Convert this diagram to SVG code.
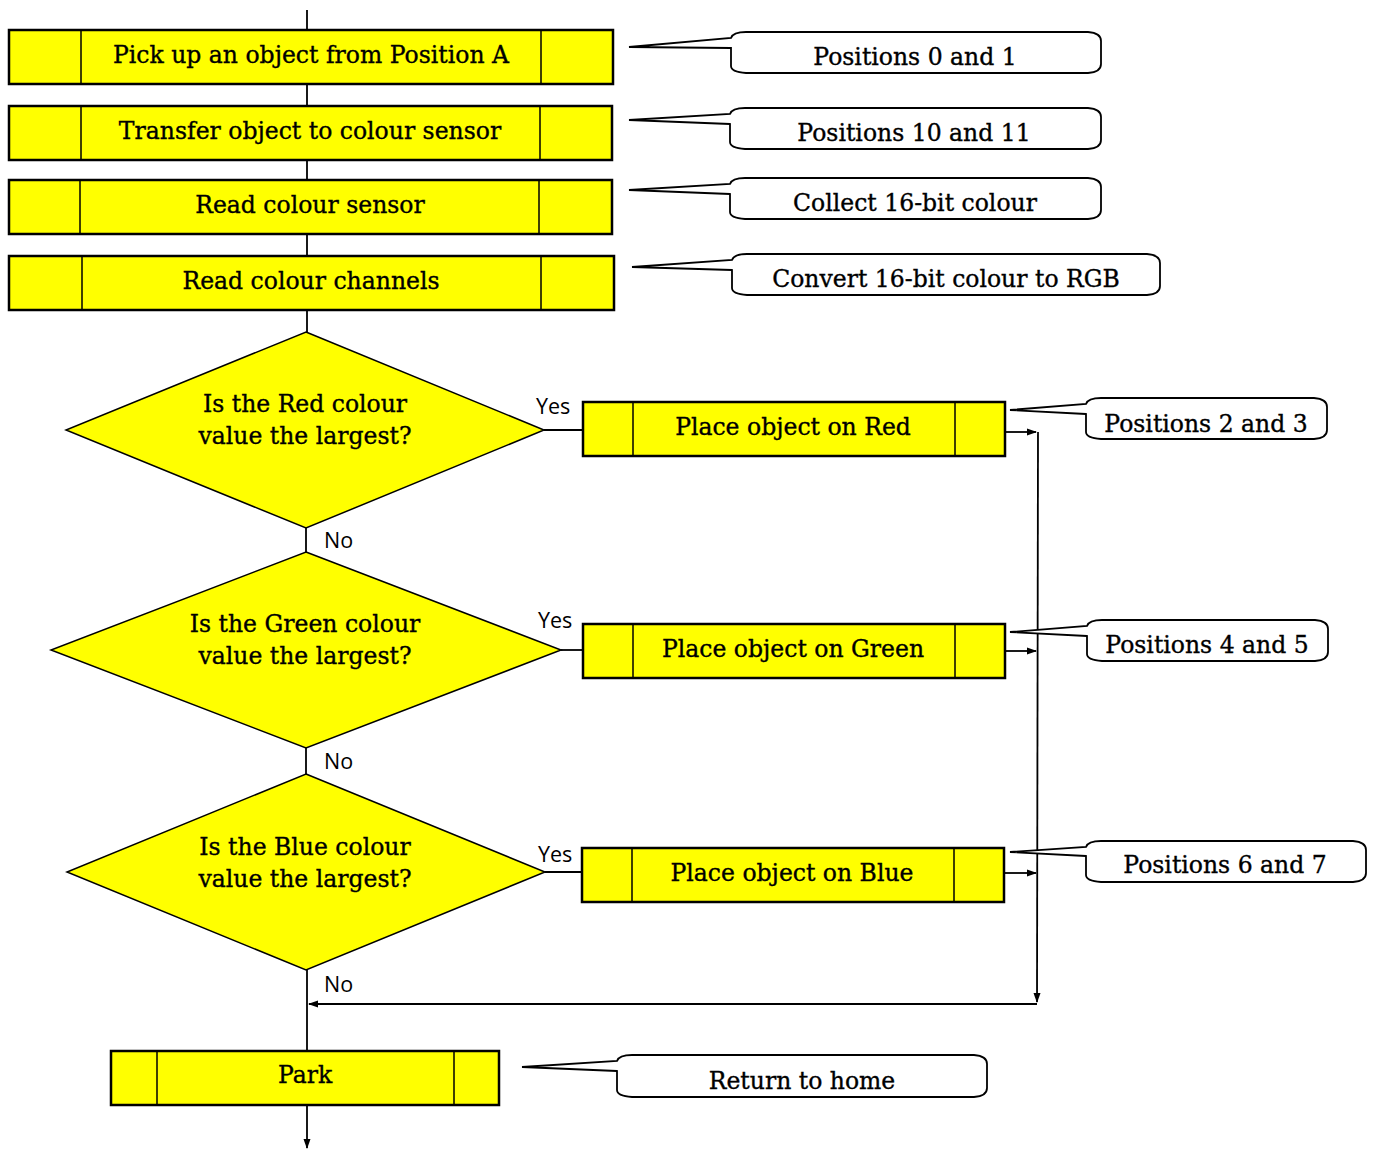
<svg xmlns="http://www.w3.org/2000/svg" width="1373" height="1149" viewBox="0 0 1373 1149">
<style>
.box{fill:#ffff00;stroke:#000;stroke-width:2.5}
.div{stroke:#000;stroke-width:1.5}
.dia{fill:#ffff00;stroke:#000;stroke-width:1.5}
.co{fill:#fff;stroke:#000;stroke-width:1.8}
.t{font-family:"DejaVu Serif","Liberation Serif",serif;font-size:23.5px;fill:#000;stroke:#000;stroke-width:0.35;text-anchor:middle}
.l{font-family:"Open Sans","Liberation Sans",sans-serif;font-size:21.5px;fill:#000}
.ln{stroke:#000;stroke-width:1.8;fill:none}
</style>
<defs>
<marker id="ah" markerWidth="10" markerHeight="10" refX="9" refY="5" orient="auto" markerUnits="userSpaceOnUse">
<path d="M0,1.5 L10,5 L0,8.5 Z" fill="#000"/>
</marker>
</defs>
<g id="connectors">
<line class="ln" x1="307" y1="10" x2="307" y2="332"/>
<line class="ln" x1="306" y1="528" x2="306" y2="552"/>
<line class="ln" x1="306" y1="748" x2="306" y2="774"/>
<line class="ln" x1="307" y1="970" x2="307" y2="1051"/>
<line class="ln" x1="307" y1="1105" x2="307" y2="1148" marker-end="url(#ah)"/>
<line class="ln" x1="544" y1="430" x2="583" y2="430"/>
<line class="ln" x1="561" y1="650" x2="583" y2="650"/>
<line class="ln" x1="545" y1="872" x2="582" y2="872"/>
<line class="ln" x1="1005" y1="432" x2="1036" y2="432" marker-end="url(#ah)"/>
<line class="ln" x1="1005" y1="651" x2="1036" y2="651" marker-end="url(#ah)"/>
<line class="ln" x1="1004" y1="873" x2="1036" y2="873" marker-end="url(#ah)"/>
<line class="ln" x1="1038" y1="432" x2="1037" y2="1002" marker-end="url(#ah)"/>
<line class="ln" x1="1037" y1="1004" x2="309" y2="1004" marker-end="url(#ah)"/>
<text class="l" x="536" y="414">Yes</text>
<text class="l" x="538" y="628">Yes</text>
<text class="l" x="538" y="862">Yes</text>
<text class="l" x="324" y="548">No</text>
<text class="l" x="324" y="769">No</text>
<text class="l" x="324" y="992">No</text>
</g>
<g id="n1">
<rect class="box" x="9" y="30" width="604" height="54"/>
<line class="div" x1="81" y1="30" x2="81" y2="84"/><line class="div" x1="541" y1="30" x2="541" y2="84"/>
<text class="t" x="311" y="63">Pick up an object from Position A</text>
</g>
<g id="n2">
<rect class="box" x="9" y="106" width="603" height="54"/>
<line class="div" x1="81" y1="106" x2="81" y2="160"/><line class="div" x1="540" y1="106" x2="540" y2="160"/>
<text class="t" x="310" y="139">Transfer object to colour sensor</text>
</g>
<g id="n3">
<rect class="box" x="9" y="180" width="603" height="54"/>
<line class="div" x1="80" y1="180" x2="80" y2="234"/><line class="div" x1="539" y1="180" x2="539" y2="234"/>
<text class="t" x="310" y="213">Read colour sensor</text>
</g>
<g id="n4">
<rect class="box" x="9" y="256" width="605" height="54"/>
<line class="div" x1="82" y1="256" x2="82" y2="310"/><line class="div" x1="541" y1="256" x2="541" y2="310"/>
<text class="t" x="311" y="289">Read colour channels</text>
</g>
<g id="d1">
<polygon class="dia" points="306,332 544,430 306,528 66,430"/>
<text class="t" x="305" y="412">Is the Red colour</text>
<text class="t" x="305" y="444">value the largest?</text>
</g>
<g id="d2">
<polygon class="dia" points="306,552 561,650 306,748 51,650"/>
<text class="t" x="305" y="632">Is the Green colour</text>
<text class="t" x="305" y="664">value the largest?</text>
</g>
<g id="d3">
<polygon class="dia" points="306,774 545,872 306,970 67,872"/>
<text class="t" x="305" y="855">Is the Blue colour</text>
<text class="t" x="305" y="887">value the largest?</text>
</g>
<g id="r1">
<rect class="box" x="583" y="402" width="422" height="54"/>
<line class="div" x1="633" y1="402" x2="633" y2="456"/><line class="div" x1="955" y1="402" x2="955" y2="456"/>
<text class="t" x="793" y="435">Place object on Red</text>
</g>
<g id="r2">
<rect class="box" x="583" y="624" width="422" height="54"/>
<line class="div" x1="633" y1="624" x2="633" y2="678"/><line class="div" x1="955" y1="624" x2="955" y2="678"/>
<text class="t" x="793" y="657">Place object on Green</text>
</g>
<g id="r3">
<rect class="box" x="582" y="848" width="422" height="54"/>
<line class="div" x1="632" y1="848" x2="632" y2="902"/><line class="div" x1="954" y1="848" x2="954" y2="902"/>
<text class="t" x="792" y="881">Place object on Blue</text>
</g>
<g id="park">
<rect class="box" x="111" y="1051" width="388" height="54"/>
<line class="div" x1="157" y1="1051" x2="157" y2="1105"/><line class="div" x1="454" y1="1051" x2="454" y2="1105"/>
<text class="t" x="305" y="1083">Park</text>
</g>
<g id="c1">
<path class="co" d="M731,48 L629,47 L731,38 Q733,32 746,32 L1088,32 Q1101,33 1101,41 L1101,64 Q1101,72 1088,73 L746,73 Q731,72 731,66 Z"/>
<text class="t" x="915" y="65">Positions 0 and 1</text>
</g>
<g id="c2">
<path class="co" d="M730,124 L629,120 L730,114 Q732,108 745,108 L1088,108 Q1101,109 1101,117 L1101,140 Q1101,148 1088,149 L745,149 Q730,148 730,142 Z"/>
<text class="t" x="914" y="141">Positions 10 and 11</text>
</g>
<g id="c3">
<path class="co" d="M730,194 L629,190 L730,184 Q732,178 745,178 L1088,178 Q1101,179 1101,187 L1101,210 Q1101,218 1088,219 L745,219 Q730,218 730,212 Z"/>
<text class="t" x="915" y="211">Collect 16-bit colour</text>
</g>
<g id="c4">
<path class="co" d="M732,270 L632,267 L732,260 Q734,254 747,254 L1147,254 Q1160,255 1160,263 L1160,286 Q1160,294 1147,295 L747,295 Q732,294 732,288 Z"/>
<text class="t" x="946" y="287">Convert 16-bit colour to RGB</text>
</g>
<g id="c5">
<path class="co" d="M1086,414 L1010,410 L1086,404 Q1088,398 1101,398 L1314,398 Q1327,399 1327,407 L1327,430 Q1327,438 1314,439 L1101,439 Q1086,438 1086,432 Z"/>
<text class="t" x="1206" y="432">Positions 2 and 3</text>
</g>
<g id="c6">
<path class="co" d="M1087,636 L1010,632 L1087,626 Q1089,620 1102,620 L1315,620 Q1328,621 1328,629 L1328,652 Q1328,660 1315,661 L1102,661 Q1087,660 1087,654 Z"/>
<text class="t" x="1207" y="653">Positions 4 and 5</text>
</g>
<g id="c7">
<path class="co" d="M1086,856 L1010,852 L1086,847 Q1088,841 1101,841 L1353,841 Q1366,842 1366,850 L1366,873 Q1366,881 1353,882 L1101,882 Q1086,881 1086,875 Z"/>
<text class="t" x="1225" y="873">Positions 6 and 7</text>
</g>
<g id="c8">
<path class="co" d="M617,1071 L522,1067 L617,1061 Q619,1055 632,1055 L974,1055 Q987,1056 987,1064 L987,1088 Q987,1096 974,1097 L632,1097 Q617,1096 617,1090 Z"/>
<text class="t" x="802" y="1089">Return to home</text>
</g>
</svg>
